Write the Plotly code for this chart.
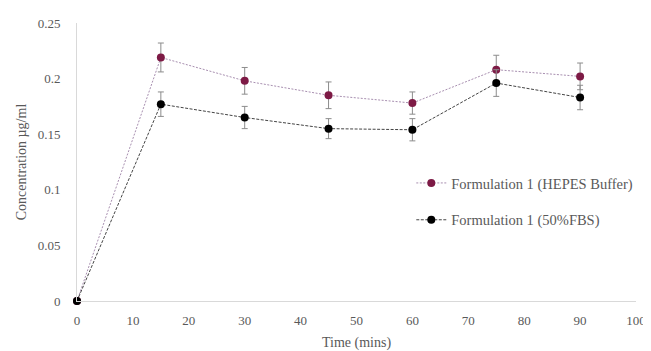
import plotly.graph_objects as go

time_mins = [0, 15, 30, 45, 60, 75, 90]
hepes = [0, 0.219, 0.198, 0.185, 0.178, 0.208, 0.202]
hepes_err = [0, 0.013, 0.012, 0.012, 0.010, 0.013, 0.012]
fbs = [0, 0.177, 0.165, 0.155, 0.154, 0.196, 0.183]
fbs_err = [0, 0.011, 0.010, 0.009, 0.010, 0.012, 0.011]

x_ticks = [0, 10, 20, 30, 40, 50, 60, 70, 80, 90, 100]
y_ticks = [0, 0.05, 0.1, 0.15, 0.2, 0.25]

font_fam = "Times New Roman, Liberation Serif, serif"
tick_font = dict(family=font_fam, size=13, color="#595959")
title_font = dict(family=font_fam, size=14, color="#595959")
legend_font = dict(family=font_fam, size=14.5, color="#595959")

fig = go.Figure()
fig.add_trace(go.Scatter(
    x=time_mins, y=hepes, name="Formulation 1 (HEPES Buffer)",
    mode="lines+markers", legendgroup="a",
    line=dict(color="#a88fb0", width=1, dash="2px,1.5px"),
    marker=dict(color="#7d1a45", size=8),
    error_y=dict(type="data", array=hepes_err, color="#8c8c8c", thickness=1, width=3),
    cliponaxis=False,
))
fig.add_trace(go.Scatter(
    x=time_mins, y=fbs, name="Formulation 1 (50%FBS)",
    mode="lines+markers", legendgroup="b",
    line=dict(color="#444444", width=1, dash="3px,1.5px"),
    marker=dict(color="#000000", size=8),
    error_y=dict(type="data", array=fbs_err, color="#8c8c8c", thickness=1, width=3),
    cliponaxis=False,
))

fig.update_layout(
    width=651, height=351,
    margin=dict(l=69, r=23, t=15, b=58),
    paper_bgcolor="white", plot_bgcolor="white",
    font=tick_font,
    legend=dict(x=0.598, y=0.482, xanchor="left", yanchor="top",
                bgcolor="rgba(0,0,0,0)", tracegroupgap=15,
                font=legend_font),
    xaxis=dict(range=[0, 100], tickvals=x_ticks, showgrid=False, zeroline=False,
               showline=True, linecolor="#d9d9d9", linewidth=1, ticks="",
               ticklabelstandoff=7, tickfont=tick_font, automargin=False,
               title=dict(text="Time (mins)", standoff=10, font=title_font)),
    yaxis=dict(range=[0, 0.25], tickvals=y_ticks, showgrid=False, zeroline=False,
               showline=True, linecolor="#d9d9d9", linewidth=1, ticks="",
               ticklabelstandoff=13, tickfont=tick_font, automargin=False,
               title=dict(text="Concentration µg/ml", standoff=7, font=title_font)),
    showlegend=True,
)

fig.write_html("out.html")
